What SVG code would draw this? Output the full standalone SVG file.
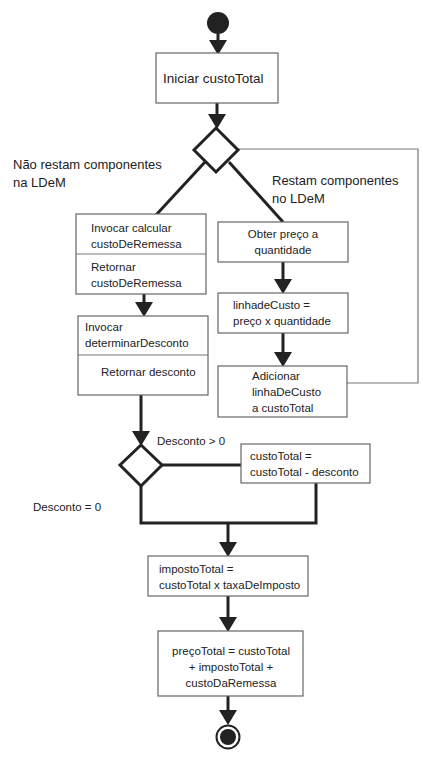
<svg xmlns="http://www.w3.org/2000/svg" width="423" height="761" viewBox="0 0 423 761">
<style>
.box{fill:#fff;stroke:#666;stroke-width:1.2}
.flow{fill:none;stroke:#222;stroke-width:3}
.thin{fill:none;stroke:#777;stroke-width:1.2}
text{font-family:"Liberation Sans",Arial,sans-serif;font-size:11.5px;fill:#222}
.lbl{font-size:13px}
.big{font-size:13.5px}
</style>
<defs>
<marker id="ah" markerWidth="6" markerHeight="6" refX="4" refY="3" orient="auto" markerUnits="strokeWidth">
<path d="M0,0 L5,3 L0,6 z" fill="#222"/>
</marker>
</defs>
<g id="connectors">
<line class="flow" x1="218" y1="34" x2="218" y2="52" marker-end="url(#ah)"/>
<line class="flow" x1="217" y1="103" x2="217" y2="126" marker-end="url(#ah)"/>
<line class="flow" x1="205" y1="162" x2="156" y2="215"/>
<line class="flow" x1="229" y1="162" x2="283" y2="222"/>
<polyline class="thin" points="238,149 418,149 418,383 347,383"/>
<line class="flow" x1="283" y1="262" x2="283" y2="291" marker-end="url(#ah)"/>
<line class="flow" x1="283" y1="333" x2="283" y2="364" marker-end="url(#ah)"/>
<line class="flow" x1="144" y1="294" x2="144" y2="314" marker-end="url(#ah)"/>
<line class="flow" x1="141" y1="395" x2="141" y2="443" marker-end="url(#ah)"/>
<line class="flow" x1="161" y1="465" x2="241" y2="465"/>
<polyline class="flow" points="141,486 141,523 316,523 316,483"/>
<line class="flow" x1="228" y1="523" x2="228" y2="554" marker-end="url(#ah)"/>
<line class="flow" x1="228" y1="596" x2="228" y2="629" marker-end="url(#ah)"/>
<line class="flow" x1="228" y1="696" x2="228" y2="722" marker-end="url(#ah)"/>
</g>
<g id="start"><circle cx="218" cy="23" r="11" fill="#222"/></g>
<g id="iniciar">
<rect class="box" x="156" y="53" width="122" height="50"/>
<text class="big" x="163" y="83">Iniciar custoTotal</text>
</g>
<g id="decisao1">
<polygon points="216,128 238,150 216,172 194,150" fill="#fff" stroke="#222" stroke-width="3"/>
</g>
<g id="label-nao"><text class="lbl" x="13" y="169">Não restam componentes</text><text class="lbl" x="13" y="187">na LDeM</text></g>
<g id="label-sim"><text class="lbl" x="272" y="185">Restam componentes</text><text class="lbl" x="272" y="203">no LDeM</text></g>
<g id="remessa">
<rect class="box" x="76" y="214" width="130" height="80"/>
<line class="thin" x1="76" y1="254" x2="206" y2="254"/>
<text x="91" y="232">Invocar calcular</text>
<text x="91" y="248">custoDeRemessa</text>
<text x="91" y="271">Retornar</text>
<text x="91" y="287">custoDeRemessa</text>
</g>
<g id="desconto">
<rect class="box" x="78" y="316" width="130" height="79"/>
<line class="thin" x1="78" y1="355" x2="208" y2="355"/>
<text x="85" y="331">Invocar</text>
<text x="85" y="347">determinarDesconto</text>
<text x="101" y="376">Retornar desconto</text>
</g>
<g id="obter">
<rect class="box" x="218" y="222" width="130" height="40"/>
<text x="283" y="238" text-anchor="middle">Obter preço a</text>
<text x="283" y="254" text-anchor="middle">quantidade</text>
</g>
<g id="linha">
<rect class="box" x="218" y="293" width="130" height="40"/>
<text x="233" y="309">linhadeCusto =</text>
<text x="233" y="325">preço x quantidade</text>
</g>
<g id="adicionar">
<rect class="box" x="218" y="366" width="129" height="51"/>
<text x="252" y="380">Adicionar</text>
<text x="252" y="396">linhaDeCusto</text>
<text x="252" y="412">a custoTotal</text>
</g>
<g id="decisao2">
<polygon points="141,445 162,465 141,486 120,465" fill="#fff" stroke="#222" stroke-width="3"/>
</g>
<g id="label-maior"><text x="157" y="445">Desconto &gt; 0</text></g>
<g id="label-igual"><text x="33" y="511">Desconto = 0</text></g>
<g id="subtrai">
<rect class="box" x="241" y="444" width="129" height="39"/>
<text x="250" y="460">custoTotal =</text>
<text x="250" y="476">custoTotal - desconto</text>
</g>
<g id="imposto">
<rect class="box" x="148" y="556" width="160" height="40"/>
<text x="159" y="573">impostoTotal =</text>
<text x="159" y="589">custoTotal x taxaDeImposto</text>
</g>
<g id="preco">
<rect class="box" x="158" y="631" width="145" height="65"/>
<text x="231" y="655" text-anchor="middle">preçoTotal = custoTotal</text>
<text x="231" y="671" text-anchor="middle">+ impostoTotal +</text>
<text x="231" y="687" text-anchor="middle">custoDaRemessa</text>
</g>
<g id="fim">
<circle cx="228" cy="737" r="11.5" fill="#fff" stroke="#222" stroke-width="2"/>
<circle cx="228" cy="737" r="8" fill="#222"/>
</g>
</svg>
